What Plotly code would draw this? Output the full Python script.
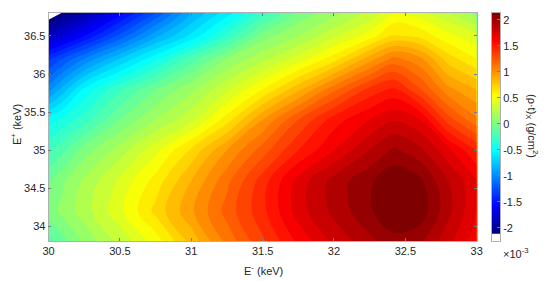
import plotly.graph_objects as go

x_kev = [30, 30.1, 30.25, 30.5, 30.75, 31, 31.25, 31.5, 31.75, 32, 32.25, 32.42, 32.6, 32.8, 33]
y_kev = [33.8, 34.2, 34.6, 35.0, 35.4, 35.8, 36.2, 36.5, 36.7, 36.8]
z_milli = [
 [-0.20, -0.09, 0.07, 0.28, 0.49, 0.78, 1.08, 1.33, 1.57, 1.77, 1.92, 2.00, 1.97, 1.78, 1.60],
 [0.00, 0.08, 0.20, 0.42, 0.68, 0.93, 1.19, 1.42, 1.70, 1.88, 2.03, 2.17, 2.12, 1.88, 1.65],
 [-0.07, 0.03, 0.17, 0.37, 0.59, 0.85, 1.12, 1.40, 1.69, 1.89, 2.03, 2.13, 2.08, 1.85, 1.66],
 [-0.28, -0.17, 0.00, 0.20, 0.42, 0.67, 0.95, 1.20, 1.45, 1.65, 1.85, 1.97, 1.88, 1.68, 1.45],
 [-0.50, -0.42, -0.30, -0.05, 0.15, 0.32, 0.60, 0.95, 1.25, 1.50, 1.65, 1.74, 1.66, 1.30, 1.07],
 [-1.00, -0.81, -0.53, -0.27, -0.06, 0.12, 0.33, 0.55, 0.82, 1.12, 1.38, 1.47, 1.26, 0.98, 0.85],
 [-1.38, -1.25, -1.05, -0.75, -0.48, -0.20, 0.05, 0.22, 0.39, 0.60, 0.90, 1.08, 0.98, 0.70, 0.55],
 [-1.85, -1.73, -1.55, -1.22, -0.88, -0.62, -0.32, 0.00, 0.15, 0.33, 0.50, 0.66, 0.62, 0.48, 0.38],
 [-2.10, -1.97, -1.80, -1.47, -1.12, -0.78, -0.50, -0.20, 0.03, 0.18, 0.35, 0.53, 0.48, 0.34, 0.20],
 [None, -2.08, -1.95, -1.60, -1.25, -0.85, -0.60, -0.30, -0.03, 0.12, 0.28, 0.44, 0.38, 0.24, 0.10],
]
x_ticks = [30, 30.5, 31, 31.5, 32, 32.5, 33]
x_labels = ["30", "30.5", "31", "31.5", "32", "32.5", "33"]
y_ticks = [34, 34.5, 35, 35.5, 36, 36.5]
y_labels = ["34", "34.5", "35", "35.5", "36", "36.5"]
cb_ticks = [-2, -1.5, -1, -0.5, 0, 0.5, 1, 1.5, 2]
cb_labels = ["-2", "-1.5", "-1", "-0.5", "0", "0.5", "1", "1.5", "2"]
cb_values = [-2.1 + i * 0.01 for i in range(424)]

JET = [[0, "#00007f"], [0.125, "#0000ff"], [0.375, "#00ffff"], [0.625, "#ffff00"], [0.875, "#ff0000"], [1, "#7f0000"]]
TXT = "#262626"
FONT = "Liberation Sans"
OFF = 8  # the page's own body margin
W, H = 550 - OFF, 281 - OFF
L, R, T, B = 48.5 - OFF, 476.7 - OFF, 13 - OFF, 241 - OFF
CL, CR = 491.7 - OFF, 500.2 - OFF

def px(v):
    return (v - OFF) / W

def py(v):
    return 1 - (v - OFF) / H

fig = go.Figure()
fig.add_trace(go.Contour(
    x=x_kev, y=y_kev, z=z_milli, colorscale=JET, showscale=False,
    autocontour=False, contours=dict(start=-2.05, end=2.05, size=0.1, coloring="fill", showlines=False),
    line=dict(width=0), connectgaps=False, hoverinfo="skip"))
fig.add_trace(go.Heatmap(
    x=[0, 1], y=cb_values, z=[[v, v] for v in cb_values], colorscale=JET, zmin=-2.1, zmax=2.13,
    showscale=False, xaxis="x2", yaxis="y2", hoverinfo="skip"))

tfont = dict(family=FONT, size=11, color=TXT)
axis_common = dict(showgrid=False, zeroline=False, showline=True, linecolor="#b0b0b0", linewidth=0.6,
                   mirror=True, ticks="inside", ticklen=3, tickwidth=0.6, tickcolor="#7a7a7a", automargin=False,
                   tickfont=tfont)
ann = dict(xref="paper", yref="paper", showarrow=False, font=tfont, xanchor="center", yanchor="middle")
fig.update_layout(
    width=W, height=H, autosize=False, paper_bgcolor="white", plot_bgcolor="white",
    margin=dict(l=0, r=0, t=0, b=0, pad=0), showlegend=False,
    xaxis=dict(axis_common, domain=[L / W, R / W], range=[30, 33], tickvals=x_ticks, ticktext=x_labels, anchor="y", mirror="ticks"),
    yaxis=dict(axis_common, domain=[1 - B / H, 1 - T / H], range=[33.81, 36.8], tickvals=y_ticks, ticktext=y_labels, anchor="x", mirror="ticks"),
    xaxis2=dict(axis_common, domain=[CL / W, CR / W], range=[0, 1], showticklabels=False, ticks="", anchor="y2"),
    yaxis2=dict(axis_common, domain=[1 - B / H, 1 - T / H], range=[-2.25, 2.13], tickvals=cb_ticks, ticktext=cb_labels,
                side="right", anchor="x2"),
    annotations=[
        dict(ann, text="E<sup>-</sup> (keV)", x=px(263), y=py(270)),
        dict(ann, text="E<sup>+</sup> (keV)", textangle=-90, x=px(16), y=py(125)),
        dict(ann, text="(\u03c1\u00b7t)<sub>X</sub> (g/cm<sup>2</sup>)", textangle=90, x=px(532), y=py(126)),
        dict(ann, text="\u00d710<sup>-3</sup>", x=px(516), y=py(253)),
    ],
)
fig.write_html("out.html")
